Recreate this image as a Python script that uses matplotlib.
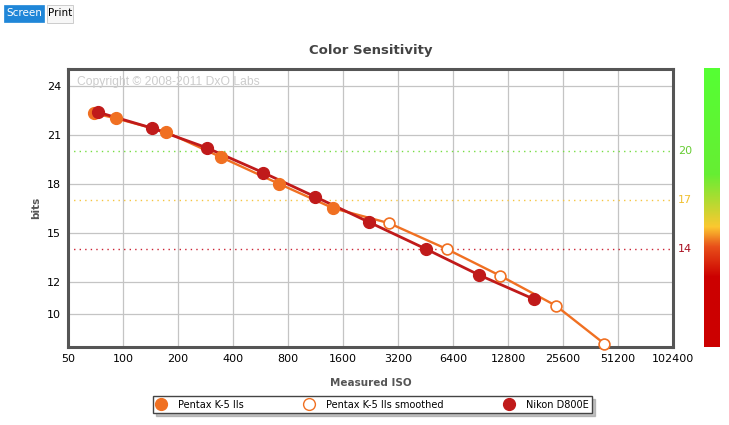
import matplotlib
matplotlib.use("Agg")
import matplotlib.pyplot as plt
import numpy as np
from matplotlib.lines import Line2D
from matplotlib.colors import LinearSegmentedColormap
from matplotlib.patches import Rectangle
import matplotlib.transforms as mtransforms

# ---- data ----
pentax_iso = [69, 91, 172, 344, 717, 1415]
pentax_bits = [22.33, 22.02, 21.18, 19.63, 17.99, 16.50]
smoothed_iso = [2868, 5910, 11600, 23440, 43100]
smoothed_bits = [15.58, 14.00, 12.36, 10.52, 8.19]
nikon_iso = [73, 144, 287, 586, 1124, 2228, 4553, 8915, 17700]
nikon_bits = [22.39, 21.42, 20.21, 18.68, 17.21, 15.64, 14.00, 12.40, 10.93]

x_ticks = [50, 100, 200, 400, 800, 1600, 3200, 6400, 12800, 25600, 51200, 102400]
y_ticks = [10, 12, 15, 18, 21, 24]
ref_levels = [20, 17, 14]
ref_colors = ["#77dd44", "#f5c542", "#cc2233"]
ref_label_colors = ["#66cc33", "#f0c030", "#aa1122"]

series_names = ["Pentax K-5 IIs", "Pentax K-5 IIs smoothed", "Nikon D800E"]
title = "Color Sensitivity"
xlabel = "Measured ISO"
ylabel = "bits"
copyright_text = "Copyright \u00a9 2008-2011 DxO Labs"

ORANGE = "#f07022"
RED = "#c01a1a"

plt.rcParams['font.family'] = ['DejaVu Sans']

W, H = 729, 425
fig = plt.figure(figsize=(W / 100, H / 100), dpi=100)
fig.patch.set_facecolor("white")

ax = fig.add_axes([68 / W, 1 - 347 / H, (673 - 68) / W, (347 - 69) / H])
ax.set_xscale("log", base=2)
ax.set_xlim(50, 102400)
ax.set_ylim(7.99, 25.04)
ax.set_xticks(x_ticks)
ax.set_xticklabels([str(t) for t in x_ticks])
ax.minorticks_off()
ax.set_yticks(y_ticks)
ax.set_yticklabels([str(t) for t in y_ticks])
ax.tick_params(length=0, labelsize=8, colors="black", pad=5)
ax.grid(True, color="#c4c4c4", linewidth=0.9, linestyle="-")
ax.set_axisbelow(True)
for s in ax.spines.values():
    s.set_color("#555555")
    s.set_linewidth(2.2)

# reference lines
trans = mtransforms.blended_transform_factory(ax.transAxes, ax.transData)
for lvl, c, lc in zip(ref_levels, ref_colors, ref_label_colors):
    ax.axhline(lvl, color=c, linewidth=1.0, linestyle=(0, (1, 3)), zorder=1.5)
    ax.text(1.008, lvl, str(lvl), transform=trans, color=lc, fontsize=8,
            va="center", ha="left")

# copyright
ax.text(0.015, 0.955, copyright_text, transform=ax.transAxes, color="#cccccc",
        fontsize=8.7, family=["Liberation Sans", "DejaVu Sans"],
        va="center", ha="left", zorder=1.6)

# Pentax line (measured + smoothed continuation)
ax.plot(pentax_iso + smoothed_iso, pentax_bits + smoothed_bits, color=ORANGE,
        linewidth=1.7, zorder=2)
ax.plot(nikon_iso, nikon_bits, color=RED, linewidth=2.0, zorder=2.2)

ax.plot(pentax_iso, pentax_bits, linestyle="None", marker="o", markersize=8.5,
        color=ORANGE, markeredgecolor=ORANGE, zorder=3, clip_on=False)
ax.plot(smoothed_iso, smoothed_bits, linestyle="None", marker="o", markersize=7.8,
        markerfacecolor="white", markeredgecolor=ORANGE, markeredgewidth=1.2,
        zorder=3, clip_on=False)
ax.plot(nikon_iso, nikon_bits, linestyle="None", marker="o", markersize=8.5,
        color=RED, markeredgecolor=RED, zorder=3.2, clip_on=False)

ax.set_title(title, fontsize=9.5, fontweight="bold", color="#444444", pad=11)
ax.set_xlabel(xlabel, fontsize=7.5, fontweight="bold", color="#555555", labelpad=10)
ax.set_ylabel(ylabel, fontsize=7.5, fontweight="bold", color="#555555", labelpad=4)

# colour bar on the right
cax = fig.add_axes([704 / W, 1 - 347 / H, (720 - 704) / W, (347 - 68) / H])
cmap = LinearSegmentedColormap.from_list(
    "dxo", [(0.0, "#cc0000"), (0.25, "#cc0000"), (0.36, "#e8501a"),
            (0.43, "#fcc830"), (0.62, "#66ee33"), (1.0, "#55ff33")])
grad = np.linspace(0, 1, 256).reshape(-1, 1)
cax.imshow(grad, aspect="auto", cmap=cmap, origin="lower")
cax.set_axis_off()

# legend
handles = [
    Line2D([], [], linestyle="None", marker="o", markersize=8.5, color=ORANGE),
    Line2D([], [], linestyle="None", marker="o", markersize=8.5,
           markerfacecolor="white", markeredgecolor=ORANGE, markeredgewidth=1.0),
    Line2D([], [], linestyle="None", marker="o", markersize=8.5, color=RED),
]
leg = fig.legend(handles, series_names, ncol=3, mode="expand",
                 bbox_to_anchor=(153 / W, 1 - 413 / H, (592 - 153) / W, 20 / H),
                 loc="lower left", fontsize=7, frameon=True, fancybox=False,
                 shadow={'ox': 2, 'oy': -2, 'color': '#999999', 'alpha': 0.6},
                 edgecolor="#444444", handletextpad=1.2,
                 borderpad=0.35, borderaxespad=0, handlelength=1.0)
leg.get_frame().set_linewidth(1.0)

# buttons top-left
fig.patches.append(Rectangle((4 / W, 1 - 22 / H), 40 / W, 17 / H,
                             transform=fig.transFigure, facecolor="#1f86d8",
                             edgecolor="#1f86d8", linewidth=0.5))
fig.text(24 / W, 1 - 13.5 / H, "Screen", color="white", fontsize=7.5,
         ha="center", va="center")
fig.patches.append(Rectangle((47 / W, 1 - 22.5 / H), 26 / W, 17.5 / H,
                             transform=fig.transFigure, facecolor="#f7f7f7",
                             edgecolor="#cccccc", linewidth=0.7))
fig.text(60 / W, 1 - 13.5 / H, "Print", color="black", fontsize=7.5,
         ha="center", va="center")

fig.savefig("out.png", dpi=100, facecolor="white")
